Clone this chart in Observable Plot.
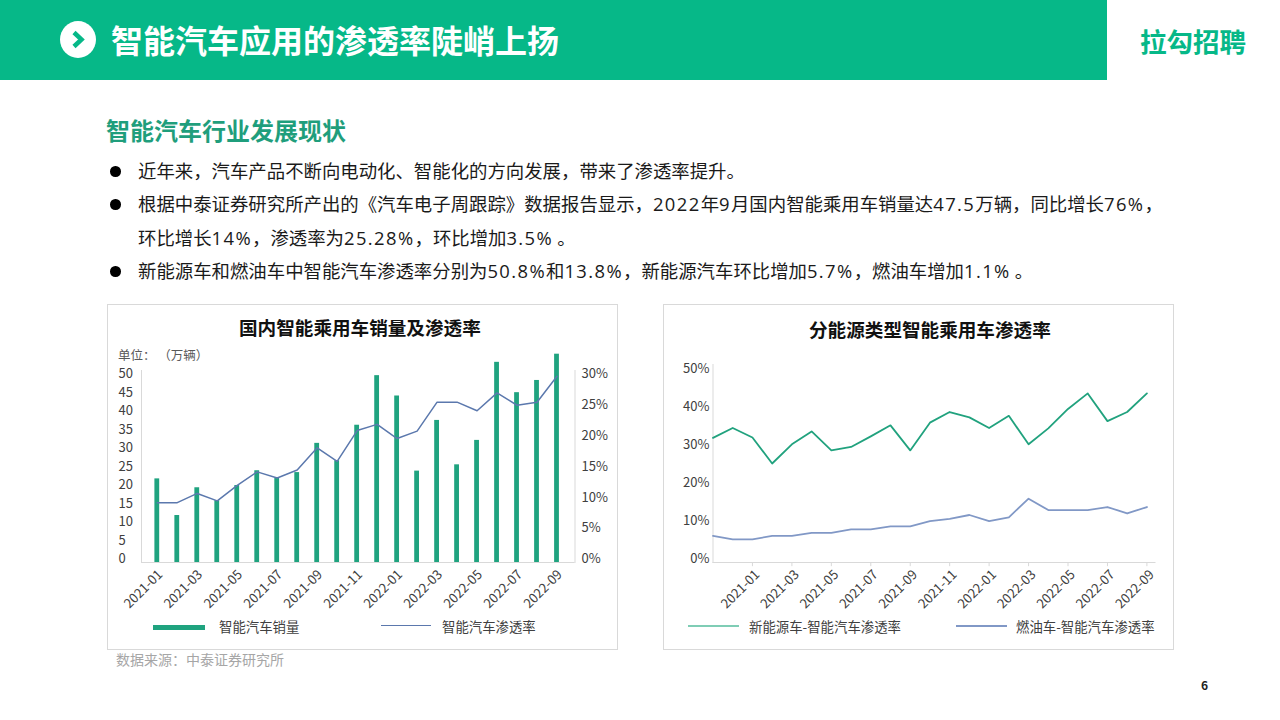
<!DOCTYPE html>
<html lang="zh"><head><meta charset="utf-8">
<script src="https://cdn.jsdelivr.net/npm/d3@7"></script>
<script src="https://cdn.jsdelivr.net/npm/@observablehq/plot@0.6"></script>
<style>
html,body{margin:0;padding:0;background:#fff;width:1280px;height:720px;overflow:hidden;font-family:"Noto Sans CJK SC","Noto Sans",sans-serif}
.a{position:absolute;white-space:nowrap;line-height:1}
.panel{position:absolute;top:304px;width:509px;height:344px;border:1.5px solid #d9d9d9;box-sizing:content-box}
.chart{position:absolute;top:305px}
.leg{font-size:13.4px;color:#404040}
.line{font-size:18.4px;color:#1a1a1a}
.line b{font-weight:400;font-family:"Open Sans","Noto Sans",sans-serif;letter-spacing:1.4px}
.dot{position:absolute;left:110px;width:10.5px;height:10.5px;border-radius:50%;background:#000}
</style></head><body>
<div class="a" style="left:0;top:0;width:1107px;height:80px;background:#06b888"></div>
<svg class="a" style="left:60px;top:21px" width="36" height="37"><ellipse cx="18" cy="18.5" rx="18" ry="18.5" fill="#fff"/><path d="M14 11.5 L21.5 18.5 L14 25.5" fill="none" stroke="#06b888" stroke-width="4.5"/></svg>
<div class="a" style="left:111px;top:23px;font-size:32px;font-weight:700;color:#fff">智能汽车应用的渗透率陡峭上扬</div>
<div class="a" style="left:1140px;top:28px;font-size:26.5px;font-weight:700;color:#06b888">拉勾招聘</div>
<div class="a" style="left:106px;top:118px;font-size:24px;font-weight:700;color:#1f9e7c">智能汽车行业发展现状</div>
<div class="dot" style="top:166px"></div>
<div class="a line" style="left:138px;top:161px">近年来，汽车产品不断向电动化、智能化的方向发展，带来了渗透率提升。</div>
<div class="dot" style="top:199px"></div>
<div class="a line" style="left:138px;top:194px">根据中泰证券研究所产出的《汽车电子周跟踪》数据报告显示，<b>2022</b>年<b>9</b>月国内智能乘用车销量达<b>47.5</b>万辆，同比增长<b>76%</b>，</div>
<div class="a line" style="left:138px;top:228px">环比增长<b>14%</b>，渗透率为<b>25.28%</b>，环比增加<b>3.5%</b> 。</div>
<div class="dot" style="top:266px"></div>
<div class="a line" style="left:138px;top:261px">新能源车和燃油车中智能汽车渗透率分别为<b>50.8%</b>和<b>13.8%</b>，新能源汽车环比增加<b>5.7%</b>，燃油车增加<b>1.1%</b> 。</div>

<div class="panel" style="left:107px"></div>
<div class="panel" style="left:663px"></div>
<div class="a" style="left:239px;top:318px;font-size:18.6px;font-weight:700;color:#111">国内智能乘用车销量及渗透率</div>
<div class="a" style="left:809px;top:320px;font-size:18.6px;font-weight:700;color:#111">分能源类型智能乘用车渗透率</div>
<div class="a" style="left:118px;top:349px;font-size:12.5px;color:#595959">单位：&nbsp;（万辆）</div>
<div id="c1" class="chart" style="left:107px"></div>
<div id="c2" class="chart" style="left:663px"></div>

<div class="a" style="left:153px;top:625px;width:52px;height:5px;background:#1fa37f"></div>
<div class="a leg" style="left:219px;top:620px">智能汽车销量</div>
<div class="a" style="left:381px;top:625px;width:50px;height:1px;background:#5b78ad"></div>
<div class="a leg" style="left:442px;top:620px">智能汽车渗透率</div>
<div class="a" style="left:688px;top:625px;width:51px;height:1.5px;background:#7fcdb5"></div>
<div class="a leg" style="left:749px;top:620px">新能源车-智能汽车渗透率</div>
<div class="a" style="left:956px;top:625px;width:51px;height:1.5px;background:#8198c6"></div>
<div class="a leg" style="left:1016px;top:620px">燃油车-智能汽车渗透率</div>
<div class="a" style="left:116px;top:652px;font-size:14px;color:#a6a6a6">数据来源：中泰证券研究所</div>
<div class="a" style="left:1201px;top:679px;font-size:12px;font-weight:700;color:#222">6</div>

<script>
const months1 = ["2021-01","2021-02","2021-03","2021-04","2021-05","2021-06","2021-07","2021-08","2021-09","2021-10","2021-11","2021-12","2022-01","2022-02","2022-03","2022-04","2022-05","2022-06","2022-07","2022-08","2022-09"];
const sales = [22.6,12.7,20.2,16.7,20.8,24.8,22.7,24.3,32.2,27.5,37.1,50.5,45,24.7,38.4,26.4,33,54.1,45.9,49.2,56.3];
const rate = [9.7,9.7,11.2,10,12.5,14.7,13.7,15,18.6,16.4,21.4,22.4,20.1,21.3,26,26,24.6,27.5,25.5,26,30.2];
const months2 = ["2020-11","2020-12",...months1];
const nev = [32.8,35.4,32.9,26.05,31.1,34.5,29.5,30.4,33.2,36.1,29.5,36.8,39.6,38.2,35.4,38.6,31.1,35.3,40.4,44.5,37.2,39.6,44.5];
const ice = [7,6.1,6.1,7,7,7.8,7.8,8.7,8.7,9.5,9.5,10.9,11.5,12.5,10.9,11.9,16.8,13.8,13.8,13.8,14.6,12.9,14.6];
const tickMonths = months1.filter((d,i)=>i%2===0);
const leftTicks = [0,5,10,15,20,25,30,35,40,45,50];
const rightTicks = [0,5,10,15,20,25,30];
const pctTicks = [0,10,20,30,40,50];
const toLeft = 50/30;
const t1 = months1.map((m,i)=>({m,sales:sales[i],rate:rate[i]}));
const svgStyle = {fontFamily:'"Noto Sans CJK SC","Noto Sans",sans-serif',fontSize:"13px",color:"#404040",background:"transparent",overflow:"visible"};

document.getElementById("c1").append(Plot.plot({
  width:510,height:344,marginLeft:34,marginRight:42.5,marginTop:65,marginBottom:87,style:svgStyle,
  x:{type:"band",domain:months1,range:[39.8,459.5],paddingInner:0.76,paddingOuter:0.38,round:false},
  y:{domain:[0,50],range:[257,72]},
  marks:[
    Plot.frame({anchor:"left",stroke:"#d9d9d9"}),
    Plot.frame({anchor:"right",stroke:"#d9d9d9"}),
    Plot.ruleY([0],{stroke:"#d9d9d9"}),
    Plot.barY(t1,{x:"m",y:"sales",fill:"#1fa37f"}),
    Plot.line(t1,{x:"m",y:d=>d.rate*toLeft,stroke:"#5b78ad",strokeWidth:1.5}),
    Plot.axisX(tickMonths,{anchor:"bottom",tickSize:0,tickRotate:-45,label:null,dx:3,dy:-2}),
    Plot.axisY(leftTicks,{anchor:"left",tickSize:0,tickPadding:23,textAnchor:"start",dy:-3.5,label:null}),
    Plot.axisY(rightTicks.map(v=>v*toLeft),{anchor:"right",tickSize:0,tickPadding:6.5,dy:-3.5,label:null,tickFormat:v=>Math.round(v/toLeft)+"%"})
  ]
}));

const t2 = months2.map((m,i)=>({m,nev:nev[i],ice:ice[i]}));
document.getElementById("c2").append(Plot.plot({
  width:510,height:344,marginLeft:49.5,marginRight:17.5,marginTop:59,marginBottom:87,style:svgStyle,
  x:{type:"point",domain:months2,range:[49.5,483.4],padding:0,round:false},
  y:{domain:[0,50],range:[257,67]},
  marks:[
    Plot.frame({anchor:"left",stroke:"#d9d9d9"}),
    Plot.ruleY([0],{stroke:"#d9d9d9"}),
    Plot.line(t2,{x:"m",y:"nev",stroke:"#21a27e",strokeWidth:1.8}),
    Plot.line(t2,{x:"m",y:"ice",stroke:"#8198c6",strokeWidth:1.8}),
    Plot.ruleX(tickMonths,{x:d=>d,y1:0,y2:-1.1,stroke:"#d9d9d9"}),
    Plot.axisX(tickMonths,{anchor:"bottom",tickSize:0,tickPadding:2,tickRotate:-45,label:null,dx:5,dy:8}),
    Plot.axisY(pctTicks,{anchor:"left",tickSize:0,tickPadding:3.5,dy:-4,label:null,tickFormat:v=>v+"%"})
  ]
}));
</script>
</body></html>
